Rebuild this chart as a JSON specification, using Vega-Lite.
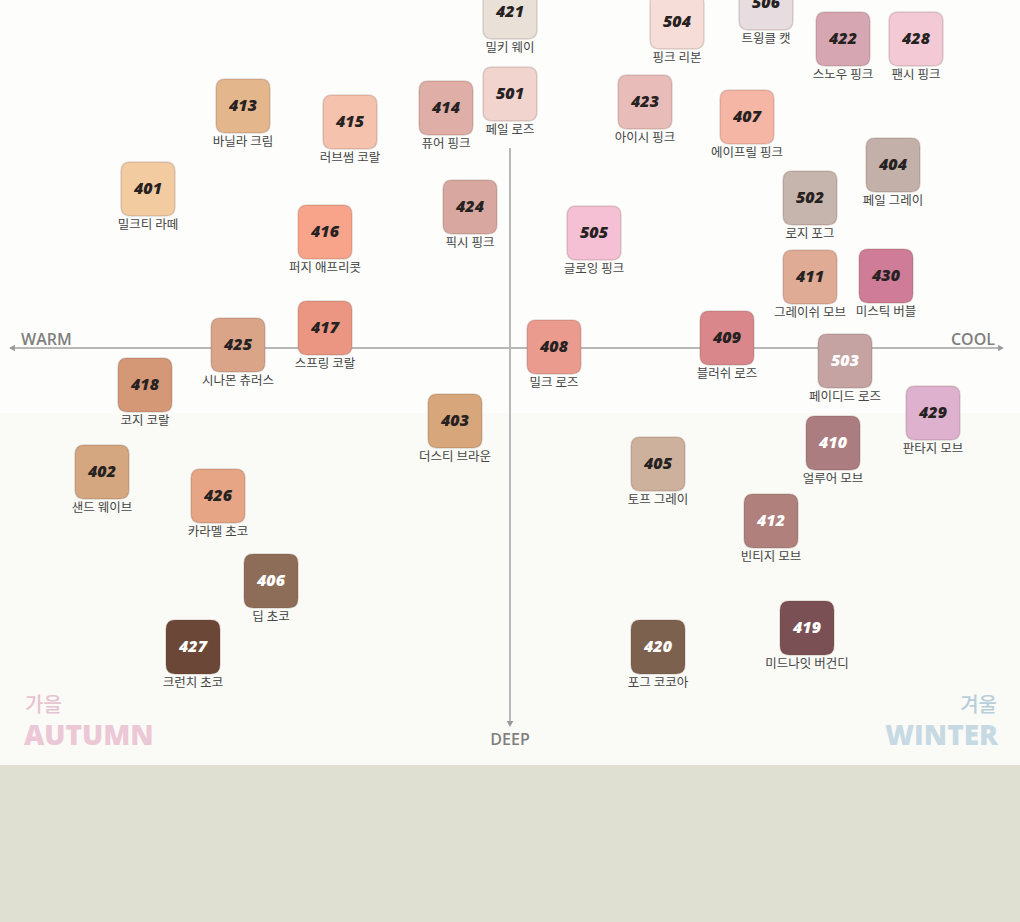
{
  "$schema": "https://vega.github.io/schema/vega-lite/v6.json",
  "width": 1020,
  "height": 922,
  "autosize": {"type": "none"},
  "padding": 0,
  "background": "#fdfdfb",
  "config": {"view": {"stroke": null}},
  "datasets": {
    "bands": [
      {"zone": "light", "x1": 0, "x2": 1020, "y1": 0, "y2": 413},
      {"zone": "deep", "x1": 0, "x2": 1020, "y1": 413, "y2": 765},
      {"zone": "footer", "x1": 0, "x2": 1020, "y1": 765, "y2": 922}
    ],
    "axes": [
      {"axis": "warm-cool", "x1": 10, "x2": 1000, "y1": 348, "y2": 348},
      {"axis": "deep", "x1": 510, "x2": 510, "y1": 148, "y2": 722}
    ],
    "arrows": [
      {"dir": "triangle-left", "x": 12, "y": 348},
      {"dir": "triangle-right", "x": 1001, "y": 348},
      {"dir": "triangle-down", "x": 510, "y": 724}
    ],
    "shades": [
      {"id": "421", "name": "밀키 웨이", "x": 510, "y": 12, "tone": "light"},
      {"id": "504", "name": "핑크 리본", "x": 677, "y": 22, "tone": "light"},
      {"id": "506", "name": "트윙클 캣", "x": 766, "y": 3, "tone": "light"},
      {"id": "422", "name": "스노우 핑크", "x": 843, "y": 39, "tone": "light"},
      {"id": "428", "name": "팬시 핑크", "x": 916, "y": 39, "tone": "light"},
      {"id": "413", "name": "바닐라 크림", "x": 243, "y": 106, "tone": "light"},
      {"id": "415", "name": "러브썸 코랄", "x": 350, "y": 122, "tone": "light"},
      {"id": "414", "name": "퓨어 핑크", "x": 446, "y": 108, "tone": "light"},
      {"id": "501", "name": "페일 로즈", "x": 510, "y": 94, "tone": "light"},
      {"id": "423", "name": "아이시 핑크", "x": 645, "y": 102, "tone": "light"},
      {"id": "407", "name": "에이프릴 핑크", "x": 747, "y": 117, "tone": "light"},
      {"id": "404", "name": "페일 그레이", "x": 893, "y": 165, "tone": "light"},
      {"id": "401", "name": "밀크티 라떼", "x": 148, "y": 189, "tone": "light"},
      {"id": "502", "name": "로지 포그", "x": 810, "y": 198, "tone": "light"},
      {"id": "424", "name": "픽시 핑크", "x": 470, "y": 207, "tone": "light"},
      {"id": "505", "name": "글로잉 핑크", "x": 594, "y": 233, "tone": "light"},
      {"id": "416", "name": "퍼지 애프리콧", "x": 325, "y": 232, "tone": "light"},
      {"id": "411", "name": "그레이쉬 모브", "x": 810, "y": 277, "tone": "light"},
      {"id": "430", "name": "미스틱 버블", "x": 886, "y": 276, "tone": "light"},
      {"id": "417", "name": "스프링 코랄", "x": 325, "y": 328, "tone": "light"},
      {"id": "425", "name": "시나몬 츄러스", "x": 238, "y": 345, "tone": "light"},
      {"id": "408", "name": "밀크 로즈", "x": 554, "y": 347, "tone": "light"},
      {"id": "409", "name": "블러쉬 로즈", "x": 727, "y": 338, "tone": "light"},
      {"id": "503", "name": "페이디드 로즈", "x": 845, "y": 361, "tone": "dark"},
      {"id": "418", "name": "코지 코랄", "x": 145, "y": 385, "tone": "light"},
      {"id": "429", "name": "판타지 모브", "x": 933, "y": 413, "tone": "light"},
      {"id": "403", "name": "더스티 브라운", "x": 455, "y": 421, "tone": "light"},
      {"id": "410", "name": "얼루어 모브", "x": 833, "y": 443, "tone": "dark"},
      {"id": "402", "name": "샌드 웨이브", "x": 102, "y": 472, "tone": "light"},
      {"id": "405", "name": "토프 그레이", "x": 658, "y": 464, "tone": "light"},
      {"id": "426", "name": "카라멜 초코", "x": 218, "y": 496, "tone": "light"},
      {"id": "412", "name": "빈티지 모브", "x": 771, "y": 521, "tone": "dark"},
      {"id": "406", "name": "딥 초코", "x": 271, "y": 581, "tone": "dark"},
      {"id": "419", "name": "미드나잇 버건디", "x": 807, "y": 628, "tone": "dark"},
      {"id": "420", "name": "포그 코코아", "x": 658, "y": 647, "tone": "dark"},
      {"id": "427", "name": "크런치 초코", "x": 193, "y": 647, "tone": "dark"}
    ],
    "autumn": [
      {"word": "가을", "x": 25, "y": 712, "lang": "ko"},
      {"word": "AUTUMN", "x": 24, "y": 745, "lang": "en"}
    ],
    "winter": [
      {"word": "겨울", "x": 997, "y": 712, "lang": "ko"},
      {"word": "WINTER", "x": 998, "y": 745, "lang": "en"}
    ]
  },
  "layer": [
    {
      "data": {"name": "bands"},
      "mark": {"type": "rect"},
      "encoding": {
        "x": {"field": "x1", "type": "quantitative", "scale": {"domain": [0, 1020], "nice": false, "zero": false}, "axis": null},
        "x2": {"field": "x2"},
        "y": {"field": "y1", "type": "quantitative", "scale": {"domain": [0, 922], "nice": false, "zero": false, "reverse": true}, "axis": null},
        "y2": {"field": "y2"},
        "fill": {"field": "zone", "type": "nominal", "scale": {"domain": ["light", "deep", "footer"], "range": ["#fdfdfb", "#fafaf6", "#dfdfd2"]}, "legend": null}
      }
    },
    {
      "data": {"name": "axes"},
      "mark": {"type": "rule", "color": "#b8b8b8", "strokeWidth": 2},
      "encoding": {
        "x": {"field": "x1", "type": "quantitative"},
        "x2": {"field": "x2"},
        "y": {"field": "y1", "type": "quantitative"},
        "y2": {"field": "y2"}
      }
    },
    {
      "data": {"name": "arrows"},
      "mark": {"type": "point", "filled": true, "color": "#9a9a9a", "size": 45, "opacity": 1},
      "encoding": {
        "x": {"field": "x", "type": "quantitative"},
        "y": {"field": "y", "type": "quantitative"},
        "shape": {"field": "dir", "type": "nominal", "scale": {"domain": ["triangle-left", "triangle-right", "triangle-down"], "range": ["triangle-left", "triangle-right", "triangle-down"]}, "legend": null}
      }
    },
    {
      "data": {"values": [{"word": "WARM", "x": 21, "y": 345}]},
      "mark": {"type": "text", "font": "Open Sans", "fontWeight": 600, "fontSize": 16, "color": "#7f7f7f", "baseline": "alphabetic", "align": "left"},
      "encoding": {
        "x": {"field": "x", "type": "quantitative"},
        "y": {"field": "y", "type": "quantitative"},
        "text": {"field": "word"}
      }
    },
    {
      "data": {"values": [{"word": "COOL", "x": 995, "y": 345}]},
      "mark": {"type": "text", "font": "Open Sans", "fontWeight": 600, "fontSize": 16, "color": "#7f7f7f", "baseline": "alphabetic", "align": "right"},
      "encoding": {
        "x": {"field": "x", "type": "quantitative"},
        "y": {"field": "y", "type": "quantitative"},
        "text": {"field": "word"}
      }
    },
    {
      "data": {"values": [{"word": "DEEP", "x": 510, "y": 745}]},
      "mark": {"type": "text", "font": "Open Sans", "fontWeight": 600, "fontSize": 16, "color": "#7f7f7f", "baseline": "alphabetic", "align": "center"},
      "encoding": {
        "x": {"field": "x", "type": "quantitative"},
        "y": {"field": "y", "type": "quantitative"},
        "text": {"field": "word"}
      }
    },
    {
      "data": {"name": "shades"},
      "mark": {
        "type": "point",
        "filled": true,
        "opacity": 1,
        "size": 2916,
        "shape": "M -0.66 -1 L 0.66 -1 Q 1 -1 1 -0.66 L 1 0.66 Q 1 1 0.66 1 L -0.66 1 Q -1 1 -1 0.66 L -1 -0.66 Q -1 -1 -0.66 -1 Z",
        "stroke": "#5a3a30",
        "strokeOpacity": 0.18,
        "strokeWidth": 1.5
      },
      "encoding": {
        "x": {"field": "x", "type": "quantitative"},
        "y": {"field": "y", "type": "quantitative"},
        "fill": {
          "field": "id", "type": "nominal", "legend": null,
          "scale": {
            "domain": ["421","504","506","422","428","413","415","414","501","423","407","404","401","502","424","505","416","411","430","417","425","408","409","503","418","429","403","410","402","405","426","412","406","419","420","427"],
            "range": ["#e9e1d8","#f6ddd7","#e7dde0","#d7a6b3","#f2c9d5","#e4b68c","#f5c2ae","#dfaea6","#f1d4ce","#e8bdb9","#f6b6a6","#c3b1a9","#f2cba1","#c6b5ac","#d8a8a0","#f5c0d3","#f8a48b","#dfab95","#cf7c99","#eb9683","#d9a487","#eb9b8e","#d9878a","#c5a3a2","#d59877","#deb2cf","#d7a67a","#ab7c80","#d4a780","#cdb19c","#e6a584","#b0807c","#8e6d58","#7a5054","#7d614f","#6b4737"]
          }
        }
      }
    },
    {
      "data": {"name": "shades"},
      "mark": {"type": "text", "font": "Open Sans", "fontWeight": 800, "fontStyle": "italic", "fontSize": 16, "baseline": "middle", "align": "center"},
      "encoding": {
        "x": {"field": "x", "type": "quantitative"},
        "y": {"field": "y", "type": "quantitative"},
        "text": {"field": "id"},
        "color": {"field": "tone", "type": "nominal", "scale": {"domain": ["light", "dark"], "range": ["#262222", "#ffffff"]}, "legend": null}
      }
    },
    {
      "data": {"name": "shades"},
      "mark": {"type": "text", "font": "Noto Sans CJK KR", "fontSize": 12.5, "color": "#454545", "baseline": "middle", "align": "center", "dy": 36},
      "encoding": {
        "x": {"field": "x", "type": "quantitative"},
        "y": {"field": "y", "type": "quantitative"},
        "text": {"field": "name"}
      }
    },
    {
      "data": {"name": "autumn"},
      "transform": [{"filter": "datum.lang === 'ko'"}],
      "mark": {"type": "text", "baseline": "alphabetic", "align": "left", "font": "Noto Sans CJK KR", "fontWeight": 500, "fontSize": 20, "color": "#e8c3d3"},
      "encoding": {
        "x": {"field": "x", "type": "quantitative"},
        "y": {"field": "y", "type": "quantitative"},
        "text": {"field": "word"}
      }
    },
    {
      "data": {"name": "autumn"},
      "transform": [{"filter": "datum.lang === 'en'"}],
      "mark": {"type": "text", "baseline": "alphabetic", "align": "left", "font": "Open Sans", "fontWeight": 800, "fontSize": 28, "color": "#ecc7d6"},
      "encoding": {
        "x": {"field": "x", "type": "quantitative"},
        "y": {"field": "y", "type": "quantitative"},
        "text": {"field": "word"}
      }
    },
    {
      "data": {"name": "winter"},
      "transform": [{"filter": "datum.lang === 'ko'"}],
      "mark": {"type": "text", "baseline": "alphabetic", "align": "right", "font": "Noto Sans CJK KR", "fontWeight": 500, "fontSize": 20, "color": "#b7cedb"},
      "encoding": {
        "x": {"field": "x", "type": "quantitative"},
        "y": {"field": "y", "type": "quantitative"},
        "text": {"field": "word"}
      }
    },
    {
      "data": {"name": "winter"},
      "transform": [{"filter": "datum.lang === 'en'"}],
      "mark": {"type": "text", "baseline": "alphabetic", "align": "right", "font": "Open Sans", "fontWeight": 800, "fontSize": 28, "color": "#c7dae4"},
      "encoding": {
        "x": {"field": "x", "type": "quantitative"},
        "y": {"field": "y", "type": "quantitative"},
        "text": {"field": "word"}
      }
    }
  ],
  "resolve": {"scale": {"color": "independent", "fill": "independent", "shape": "independent"}}
}
